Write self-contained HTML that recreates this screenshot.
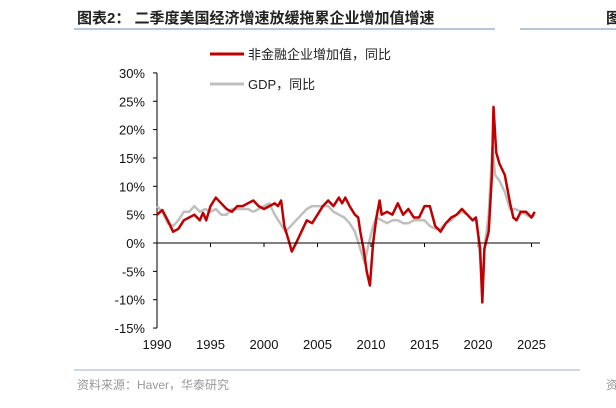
<!DOCTYPE html>
<html><head><meta charset="utf-8"><style>
body{margin:0;width:616px;height:403px;background:#fff;overflow:hidden;font-family:"Liberation Sans","Noto Sans CJK SC",sans-serif}
</style></head><body>
<svg id="s" width="616" height="403" xmlns="http://www.w3.org/2000/svg" font-family="Liberation Sans, Noto Sans CJK SC, sans-serif">
<text x="77" y="23" font-size="15" font-weight="bold" fill="#222">图表2：  二季度美国经济增速放缓拖累企业增加值增速</text>
<line x1="74" y1="29" x2="495" y2="29" stroke="#9db3cf" stroke-width="1.5"/>
<line x1="520" y1="29" x2="616" y2="29" stroke="#9db3cf" stroke-width="1.5"/>
<text x="606" y="23" font-size="15" font-weight="bold" fill="#222">图</text>
<line x1="210" y1="54" x2="244" y2="54" stroke="#c00000" stroke-width="3"/>
<text x="248" y="59" font-size="13" fill="#222">非金融企业增加值，同比</text>
<line x1="210" y1="84" x2="244" y2="84" stroke="#bfbfbf" stroke-width="3"/>
<text x="248" y="89" font-size="13" fill="#222">GDP，同比</text>
<g id="ax" font-size="13" fill="#111"></g>
<polyline id="g" fill="none" stroke="#bfbfbf" stroke-width="2.5" stroke-linejoin="round"/>
<polyline id="r" fill="none" stroke="#c00000" stroke-width="2.5" stroke-linejoin="round"/>
<line x1="156" y1="243" x2="540" y2="243" stroke="#000" stroke-width="1"/>
<line x1="74" y1="370" x2="580" y2="370" stroke="#9db3cf" stroke-width="1"/>
<text x="77" y="389" font-size="12" fill="#999">资料来源：Haver，华泰研究</text>
<text x="606" y="389" font-size="12" fill="#999">资</text>
</svg>
<script>
var X=function(y){return 157+(y-1990)*10.7},Y=function(v){return 243-v*5.67};
var ax=document.getElementById('ax'),h='';
h+='<line x1="157" y1="73" x2="157" y2="328" stroke="#000"/>';
for(var v=30;v>=-15;v-=5){var y=Y(v);h+='<line x1="153" y1="'+y+'" x2="157" y2="'+y+'" stroke="#000"/><text x="145" y="'+(y+5)+'" text-anchor="end">'+v+'%</text>';}
for(var yr=1990;yr<=2025;yr+=5){var x=X(yr);h+='<line x1="'+x+'" y1="243" x2="'+x+'" y2="247" stroke="#000"/><text x="'+x+'" y="349" text-anchor="middle">'+yr+'</text>';}
ax.innerHTML=h;
var r=[1990,5,1990.5,5.8,1991,4,1991.5,2,1992,2.5,1992.5,4,1993,4.5,1993.5,5,1994,4,1994.3,5.3,1994.6,4,1995,6.5,1995.5,8,1996,7,1996.5,6,1997,5.5,1997.5,6.5,1998,6.5,1998.5,7,1999,7.5,1999.5,6.5,2000,6,2000.5,6.5,2001,7,2001.3,6.5,2001.6,7.5,2001.9,3,2002.3,0.5,2002.6,-1.5,2003,0,2003.5,2,2004,4,2004.5,3.5,2005,5,2005.5,6.5,2006,7.5,2006.5,6.5,2007,8,2007.3,7,2007.6,8,2008,6.5,2008.5,5,2008.8,4.5,2009,2,2009.3,-1,2009.6,-5,2009.9,-7.5,2010.2,0,2010.5,4.5,2010.8,7.5,2011,5,2011.5,5.5,2012,5,2012.5,7,2013,5,2013.5,6,2014,4.5,2014.5,4.5,2015,6.5,2015.5,6.5,2016,3,2016.5,2,2017,3.5,2017.5,4.5,2018,5,2018.5,6,2019,5,2019.5,4,2019.8,4.5,2020.2,-1,2020.4,-10.5,2020.6,-1,2021,2,2021.3,12,2021.45,24,2021.7,16,2022,14,2022.5,12,2023,7,2023.3,4.5,2023.6,4,2024,5.5,2024.5,5.5,2025,4.5,2025.3,5.5];
var g=[1990,6.5,1990.5,5.5,1991,3.5,1991.5,3,1992,4,1992.5,5.5,1993,5.5,1993.5,6.5,1994,5.5,1994.5,6,1995,5.5,1995.5,6,1996,5,1996.5,5,1997,6,1997.5,6,1998,6,1998.5,6,1999,5.5,1999.5,6,2000,6.5,2000.5,7,2001,5,2001.5,3.5,2002,2,2002.5,3,2003,4,2003.5,5,2004,6,2004.5,6.5,2005,6.5,2005.5,6.5,2006,6.5,2006.5,5.5,2007,5,2007.5,4.5,2008,3.5,2008.5,2,2009,-1,2009.4,-3.5,2009.8,0,2010.2,3,2010.5,4.5,2011,4,2011.5,3.5,2012,4,2012.5,4,2013,3.5,2013.5,3.5,2014,4,2014.5,4,2015,4,2015.5,3,2016,2.5,2016.5,2.5,2017,3.5,2017.5,4,2018,5,2018.5,5.5,2019,5,2019.5,4,2019.9,4,2020.4,-7.5,2020.6,-1,2021,5,2021.35,17,2021.6,12,2022,11,2022.5,9,2023,6,2023.5,6,2024,5.5,2024.5,5,2025,4.5,2025.3,5];
function pts(a){var s=[];for(var i=0;i<a.length;i+=2)s.push(X(a[i]).toFixed(1)+','+Y(a[i+1]).toFixed(1));return s.join(' ');}
document.getElementById('r').setAttribute('points',pts(r));
document.getElementById('g').setAttribute('points',pts(g));
</script>
</body></html>
